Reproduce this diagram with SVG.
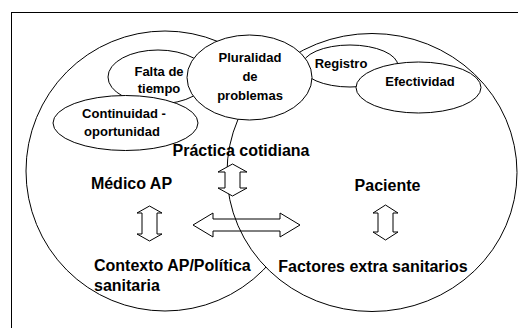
<svg xmlns="http://www.w3.org/2000/svg" width="518" height="328" viewBox="0 0 518 328">
<style>
.ln{fill:none;stroke:#000;stroke-width:1}
.wf{fill:#fff;stroke:#000;stroke-width:1}
.big{font-family:"Liberation Sans",Arial,sans-serif;font-weight:bold;font-size:16px;fill:#000}
.sm{font-family:"Liberation Sans",Arial,sans-serif;font-weight:bold;font-size:13px;fill:#000}
.c{text-anchor:middle}
</style>
<rect x="0" y="0" width="518" height="328" fill="#fff"/>
<rect x="11.5" y="12.5" width="520" height="330" class="ln"/>
<g id="medico-circle"><ellipse cx="165" cy="171" rx="139" ry="140" class="wf"/></g>
<g id="paciente-circle"><ellipse cx="372" cy="172.5" rx="145" ry="139" class="wf"/></g>
<g id="falta"><ellipse cx="158" cy="77" rx="50" ry="27" class="wf"/>
<text class="sm c" x="159" y="76">Falta de</text><text class="sm c" x="159" y="93">tiempo</text></g>
<g id="continuidad"><ellipse cx="125.5" cy="123" rx="72.5" ry="27.5" class="wf"/>
<text class="sm c" x="124" y="118">Continuidad -</text><text class="sm c" x="122" y="136">oportunidad</text></g>
<g id="registro"><ellipse cx="350" cy="66" rx="48" ry="21" class="wf"/>
<text class="sm c" x="341" y="68">Registro</text></g>
<g id="efectividad"><ellipse cx="418.5" cy="87.5" rx="62.5" ry="25.5" class="wf"/>
<text class="sm c" x="420" y="86">Efectividad</text></g>
<g id="pluralidad"><ellipse cx="249.5" cy="77.5" rx="62.5" ry="42.5" class="wf"/>
<text class="sm c" x="250" y="62">Pluralidad</text><text class="sm c" x="250" y="81">de</text><text class="sm c" x="250" y="100">problemas</text></g>
<g id="labels">
<text class="big c" x="241" y="156">Práctica cotidiana</text>
<text class="big c" x="131.5" y="189">Médico AP</text>
<text class="big c" x="387.5" y="191">Paciente</text>
<text class="big" x="94" y="271">Contexto AP/Política</text>
<text class="big" x="94" y="291">sanitaria</text>
<text class="big c" x="373" y="272">Factores extra sanitarios</text>
</g>
<g id="connectors">
<path class="wf" d="M232.5,164 L247,172 L240,172 L240,188 L247,188 L232.5,196 L218,188 L225,188 L225,172 L218,172 Z"/>
<path class="wf" d="M149.5,206 L162,213 L157,213 L157,234 L162,234 L149.5,241 L137,234 L142,234 L142,213 L137,213 Z"/>
<path class="wf" d="M385.5,205 L398,213 L393,213 L393,232 L398,232 L385.5,240 L373,232 L378,232 L378,213 L373,213 Z"/>
<path class="ln" d="M193,225 L213,213 L213,219 L280,219 L280,213 L300,225 L280,237 L280,231 L213,231 L213,237 Z"/>
</g>
</svg>
